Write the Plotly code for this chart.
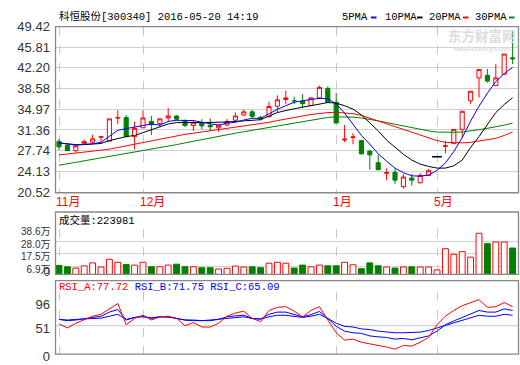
import plotly.graph_objects as go

W, H = 520, 365

# ---------------- data ----------------
idx = list(range(55))
open_ = [29.36, 28.69, 27.75, 28.97, 29.24, 30.10, 29.41, 33.45, 33.52, 30.19,
         31.74, 32.85, 32.46, 33.46, 33.80, 32.96, 32.13, 32.57, 32.19, 31.74,
         32.24, 33.07, 33.96, 34.52, 33.57, 33.68, 35.52, 36.68, 36.50, 36.40,
         35.63, 36.96, 38.62, 36.18, 29.60, 30.05, 29.52, 27.69, 25.64, 23.80,
         23.97, 21.48, 22.97, 22.14, 23.42, 26.69, 28.50, 28.97, 31.46, 36.46,
         40.45, 40.90, 39.12, 41.07, 43.95]
high = [29.80, 28.80, 28.58, 29.69, 30.52, 30.35, 33.30, 34.80, 33.96, 32.85,
        34.79, 33.80, 33.40, 35.18, 33.96, 33.20, 33.07, 33.24, 33.40, 32.30,
        33.24, 34.40, 34.96, 34.85, 33.85, 36.29, 37.40, 38.23, 37.18, 37.62,
        37.07, 39.12, 38.96, 37.85, 32.19, 30.80, 29.60, 27.70, 27.02, 24.64,
        24.64, 23.70, 23.70, 23.81, 24.53, 26.69, 29.41, 31.46, 34.63, 38.12,
        41.90, 42.01, 42.84, 44.62, 48.67]
low = [27.86, 27.70, 27.41, 28.97, 29.08, 29.25, 29.41, 32.41, 30.08, 27.97,
       31.74, 30.47, 31.85, 32.85, 32.96, 31.85, 31.19, 31.46, 31.19, 31.02,
       32.02, 32.85, 33.80, 33.40, 33.02, 33.52, 34.41, 35.90, 35.90, 35.18,
       35.63, 36.74, 36.18, 32.57, 29.24, 28.86, 27.10, 24.42, 24.42, 22.59,
       21.92, 21.09, 21.64, 22.03, 23.31, 26.69, 27.30, 28.97, 29.97, 35.90,
       37.01, 39.62, 39.12, 41.07, 42.84]
close = [28.41, 27.75, 28.58, 29.36, 29.80, 30.20, 33.30, 33.50, 30.24, 31.63,
         33.46, 32.30, 33.30, 33.80, 33.24, 32.13, 32.63, 32.07, 31.91, 32.19,
         32.85, 33.80, 34.52, 33.74, 33.30, 35.46, 36.63, 36.96, 36.45, 35.96,
         36.96, 38.79, 36.18, 32.57, 29.75, 30.15, 27.19, 27.02, 24.42, 23.90,
         22.59, 23.14, 22.59, 23.42, 24.25, 26.69, 28.60, 31.46, 34.63, 38.12,
         41.90, 39.90, 40.45, 44.62, 43.80]
volume_wan = [7.6, 6.5, 5.4, 7.3, 9.8, 6.3, 12.8, 10.3, 8.4, 7.9,
              10.3, 6.5, 6.5, 7.9, 8.7, 6.5, 6.5, 5.7, 5.7, 4.6,
              5.2, 7.1, 6.3, 6.5, 5.7, 9.5, 10.3, 9.5, 5.4, 7.9,
              6.5, 7.9, 7.3, 7.3, 10.3, 8.2, 4.9, 9.8, 7.3, 6.3,
              5.4, 6.3, 6.5, 6.3, 6.3, 3.8, 21.8, 17.1, 19.3, 14.7,
              34.9, 26.1, 27.5, 27.5, 22.4]
ma5 = [29.1, 28.9, 28.7, 28.85, 28.95, 29.2, 30.3, 31.3, 31.6, 31.85,
       32.1, 32.4, 32.2, 32.85, 33.05, 33.05, 33.0, 32.7, 32.4, 32.2,
       32.55, 32.7, 33.1, 33.4, 33.4, 34.2, 34.95, 35.6, 36.2, 36.45,
       36.65, 36.9, 36.8, 35.9, 34.3, 32.4, 30.4, 28.9, 27.2, 25.9,
       24.7, 23.9, 23.35, 23.3, 23.5, 24.3, 25.6, 27.6, 30.0, 32.9,
       35.5, 37.8, 39.8, 41.2, 42.3]
ma10 = [29.1, 28.9, 28.8, 28.8, 28.85, 29.0, 29.5, 29.9, 30.2, 30.4,
        30.9, 31.5, 31.9, 32.4, 32.65, 32.7, 32.65, 32.65, 32.65, 32.7,
        32.75, 32.85, 32.95, 33.05, 33.15, 33.8, 34.4, 34.75, 35.1, 35.35,
        35.6, 35.9, 36.15, 36.05, 35.6, 35.0, 34.0, 32.6, 31.2, 29.6,
        28.4, 27.1, 26.1, 25.4, 25.0, 24.7, 24.7, 25.1, 26.1, 28.3,
        30.2, 32.3, 34.4, 35.8, 37.0]
ma20 = [27.0, 27.15, 27.3, 27.45, 27.6, 27.8, 28.0, 28.3, 28.6, 28.9,
        29.2, 29.5, 29.8, 30.1, 30.4, 30.6, 30.8, 31.0, 31.2, 31.4,
        31.6, 31.8, 32.0, 32.2, 32.45, 32.7, 33.0, 33.3, 33.55, 33.8,
        34.05, 34.25, 34.4, 34.45, 34.35, 34.2, 33.9, 33.4, 32.9, 32.4,
        31.9, 31.4, 30.9, 30.4, 29.9, 29.5, 29.2, 29.1, 29.1, 29.2,
        29.4, 29.6, 29.9, 30.4, 31.0]
ma30 = [25.2, 25.45, 25.7, 25.95, 26.2, 26.45, 26.7, 26.95, 27.2, 27.45,
        27.7, 27.95, 28.2, 28.5, 28.8, 29.1, 29.4, 29.7, 30.0, 30.3,
        30.55, 30.8, 31.05, 31.3, 31.55, 31.8, 32.05, 32.3, 32.6, 32.85,
        33.1, 33.35, 33.55, 33.65, 33.65, 33.6, 33.45, 33.25, 32.95, 32.65,
        32.35, 32.05, 31.75, 31.45, 31.2, 31.0, 30.95, 30.95, 31.0, 31.15,
        31.4, 31.65, 31.9, 32.2, 32.55]
rsi_a = [54.5, 46.8, 55.7, 62.8, 68.7, 72.3, 82.4, 92.4, 52.8, 64.6,
         70.5, 61.6, 67.6, 68.7, 64.6, 51.0, 56.9, 48.6, 48.6, 55.7,
         68.7, 74.7, 78.2, 64.6, 58.7, 79.4, 85.3, 86.5, 78.2, 67.6,
         79.4, 86.5, 61.6, 37.9, 24.3, 26.1, 20.2, 17.2, 15.5, 11.3,
         7.2, 14.3, 13.1, 20.2, 29.1, 52.8, 68.7, 79.4, 88.3, 94.2,
         99.6, 85.3, 86.5, 94.2, 86.5]
rsi_b = [62.8, 60.5, 61.6, 64.6, 66.4, 68.7, 76.4, 81.2, 61.6, 66.4,
         69.3, 64.6, 67.6, 67.6, 64.6, 61.6, 60.5, 60.5, 60.5, 62.8,
         67.6, 69.3, 70.5, 64.6, 63.4, 72.3, 76.4, 76.4, 72.3, 67.6,
         71.7, 77.6, 64.6, 49.8, 40.9, 37.9, 36.8, 32.0, 30.3, 29.1,
         26.1, 27.3, 24.9, 27.9, 32.0, 40.9, 52.8, 59.9, 66.4, 72.3,
         79.4, 76.4, 76.4, 82.4, 79.4]
rsi_c = [62.8, 61.6, 62.8, 63.4, 64.6, 65.2, 68.7, 72.3, 62.8, 66.4,
         67.6, 65.8, 67.6, 67.0, 64.6, 61.6, 61.6, 60.5, 61.6, 62.8,
         65.2, 66.4, 67.6, 64.6, 63.4, 67.6, 70.5, 70.5, 68.7, 66.4,
         68.7, 72.3, 64.6, 55.7, 49.8, 48.6, 45.1, 43.9, 40.9, 39.1,
         37.9, 37.9, 37.9, 39.1, 42.1, 46.8, 52.8, 57.5, 61.6, 65.8,
         70.5, 68.7, 68.7, 72.3, 70.5]

price_ticks = [20.52, 24.13, 27.74, 31.36, 34.97, 38.58, 42.20, 45.81, 49.42]
vol_ticks = [6.9, 17.5, 28.0, 38.6]
vol_tick_text = ["6.9万", "17.5万", "28.0万", "38.6万"]
vol_zero = [0]
rsi_ticks = [0, 51, 96]
month_pos = [0, 10, 33, 45]
month_labels = ["11月", "12月", "1月", "5月"]

title_text = "科恒股份[300340] 2016-05-20 14:19"
vol_title = "成交量:223981"
rsi_labels = [("RSI_A:77.72", "#ff0000"), ("RSI_B:71.75", "#0000ff"), ("RSI_C:65.09", "#0000ff")]
ma_names = ["5PMA", "10PMA", "20PMA", "30PMA"]

# ---------------- style ----------------
RED = "#ff0000"
GREEN = "#008000"
BLUE = "#0000ff"
GRID = "#d0d0d0"
FRAME = "#888888"
MONO = "Liberation Mono, Noto Sans CJK SC, monospace"
SANS = "Liberation Sans, Noto Sans CJK SC, sans-serif"


def px(x):
    return x / W


def py(y):
    return 1 - y / H


X_L, X_R = 55.5, 518.5
xdom = [px(X_L), px(X_R)]
x_range = [-0.4167, -0.4167 + (X_R - X_L) / 8.4]
VOL_DOM = [py(280.5), py(232.7)]
VOL_RANGE = [0, 38.65]

fig = go.Figure()

# price candles (flat doji drawn separately)
flat = [i for i in idx if open_[i] == high[i] == low[i] == close[i]]
c_open = [None if i in flat else open_[i] for i in idx]
c_high = [None if i in flat else high[i] for i in idx]
c_low = [None if i in flat else low[i] for i in idx]
c_close = [None if i in flat else close[i] for i in idx]

fig.add_trace(go.Candlestick(
    x=idx, open=c_open, high=c_high, low=c_low, close=c_close,
    increasing=dict(line=dict(color=RED, width=1), fillcolor="#ffffff"),
    decreasing=dict(line=dict(color=GREEN, width=1), fillcolor=GREEN),
    whiskerwidth=0, xaxis="x", yaxis="y", showlegend=False, hoverinfo="skip"))
fig.add_trace(go.Scatter(
    x=flat, y=[close[i] for i in flat], mode="markers",
    marker=dict(symbol="line-ew", size=7, line=dict(color="#000000", width=1.5)),
    xaxis="x", yaxis="y", showlegend=False, hoverinfo="skip"))

for vals, col in [(ma30, GREEN), (ma20, RED), (ma10, "#000000"), (ma5, BLUE)]:
    fig.add_trace(go.Scatter(x=idx, y=vals, mode="lines", line=dict(color=col, width=1),
                             xaxis="x", yaxis="y", showlegend=False, hoverinfo="skip"))

# volume
up = [close[i] >= open_[i] for i in idx]
fig.add_trace(go.Bar(
    x=idx, y=volume_wan, width=0.7,
    marker=dict(color=["#ffffff" if u else GREEN for u in up],
                line=dict(color=[RED if u else GREEN for u in up], width=1)),
    xaxis="x2", yaxis="y2", showlegend=False, hoverinfo="skip"))
# same volume values on the overlaid axis carrying the "0" label (invisible)
fig.add_trace(go.Scatter(x=idx, y=volume_wan, mode="lines", line=dict(width=0),
                         opacity=0, xaxis="x2", yaxis="y4", showlegend=False, hoverinfo="skip"))

# RSI
for vals, col in [(rsi_c, BLUE), (rsi_b, BLUE), (rsi_a, RED)]:
    fig.add_trace(go.Scatter(x=idx, y=vals, mode="lines", line=dict(color=col, width=1),
                             xaxis="x3", yaxis="y3", showlegend=False, hoverinfo="skip"))

xcommon = dict(domain=xdom, range=x_range, showticklabels=False, tickvals=month_pos,
               showgrid=True, gridcolor="#c8c8c8", griddash="dash", gridwidth=1,
               zeroline=False, showline=False, ticks="", fixedrange=True)


def ycommon(size):
    return dict(showline=False, zeroline=False, ticks="outside", ticklen=2, fixedrange=True,
                tickcolor="rgba(0,0,0,0)", tickfont=dict(family=SANS, size=size, color="#333333"))


fig.update_layout(
    width=W, height=H, margin=dict(l=0, r=0, t=0, b=0),
    paper_bgcolor="#ffffff", plot_bgcolor="#ffffff", showlegend=False,
    xaxis=dict(anchor="y", rangeslider=dict(visible=False), **xcommon),
    xaxis2=dict(anchor="y2", matches="x", **xcommon),
    xaxis3=dict(anchor="y3", matches="x", **xcommon),
    yaxis=dict(domain=[py(194.8), py(20.5)], range=[20.40, 49.42], tickvals=price_ticks,
               ticktext=[f"{v:.2f}" for v in price_ticks], showgrid=True, gridcolor=GRID,
               anchor="x", **ycommon(13)),
    yaxis2=dict(domain=VOL_DOM, range=VOL_RANGE, tickvals=vol_ticks,
                ticktext=vol_tick_text, showgrid=True, gridcolor=GRID, anchor="x2",
                ticklabelshift=3, **ycommon(10)),
    yaxis4=dict(domain=VOL_DOM, range=VOL_RANGE, tickvals=vol_zero, ticktext=["0"],
                overlaying="y2", side="left", showgrid=False, anchor="x2",
                ticklabelshift=-3, ticklabeloverflow="allow", **ycommon(12)),
    yaxis3=dict(domain=[py(364), py(299)], range=[-1.75, 113.7], tickvals=rsi_ticks,
                ticktext=[str(v) for v in rsi_ticks], showgrid=False, anchor="x3",
                ticklabelshift=3, ticklabeloverflow="allow", **ycommon(13)),
)

shapes = []
# panel frames
for top, bot in [(20.5, 194.8), (215, 280.5), (287, 364)]:
    shapes.append(dict(type="rect", xref="paper", yref="paper", x0=xdom[0], x1=xdom[1],
                       y0=py(bot), y1=py(top), line=dict(color=FRAME, width=1.3), layer="above"))
# RSI 51 line
shapes.append(dict(type="line", xref="paper", yref="y3", x0=xdom[0], x1=xdom[1], y0=51, y1=51,
                   line=dict(color="#c8c8c8", width=1), layer="below"))

annotations = []
annotations.append(dict(x=px(57), y=py(10), xref="paper", yref="paper", xanchor="left",
                        yanchor="middle", text=title_text, showarrow=False,
                        font=dict(family=MONO, size=10.5, color="#000000")))
# MA legend
leg_x = [340, 383, 427, 473]
sw_x = [371, 417, 463, 509]
sw_col = [BLUE, "#000000", RED, GREEN]
for name, lx, sx, col in zip(ma_names, leg_x, sw_x, sw_col):
    annotations.append(dict(x=px(lx), y=py(10), xref="paper", yref="paper", xanchor="left",
                            yanchor="middle", text=name, showarrow=False,
                            font=dict(family=MONO, size=10.5, color="#000000")))
    shapes.append(dict(type="rect", xref="paper", yref="paper", x0=px(sx), x1=px(sx + 5.5),
                       y0=py(12), y1=py(10), line=dict(width=0), fillcolor=col))
# watermark
annotations.append(dict(x=px(482), y=py(29), xref="paper", yref="paper", xanchor="center",
                        yanchor="middle", text="<b>东方财富网</b>", showarrow=False,
                        font=dict(family="Noto Sans CJK SC", size=13.5, color="#dcdcdc")))
annotations.append(dict(x=px(482), y=py(44), xref="paper", yref="paper", xanchor="center",
                        yanchor="middle", text="<b>eastmoney.com</b>", showarrow=False,
                        font=dict(family=SANS, size=7.5, color="#dcdcdc")))
# month labels
for pos, lab in zip(month_pos, month_labels):
    annotations.append(dict(x=pos, y=py(205), xref="x", yref="paper", xanchor="left",
                            yanchor="middle", xshift=-5, text=lab, showarrow=False,
                            font=dict(family=SANS, size=12, color=RED)))
# volume title
annotations.append(dict(x=px(57), y=py(223.5), xref="paper", yref="paper", xanchor="left",
                        yanchor="middle", text=vol_title, showarrow=False,
                        font=dict(family=MONO, size=10.5, color="#000000")))
# RSI title
rsi_text = " ".join(f"<span style='color:{c}'>{t}</span>" for t, c in rsi_labels)
annotations.append(dict(x=px(57), y=py(293.5), xref="paper", yref="paper", xanchor="left",
                        yanchor="middle", text=rsi_text, showarrow=False,
                        font=dict(family=MONO, size=10.5, color="#000000")))

fig.update_layout(shapes=shapes, annotations=annotations)
fig.write_html("out.html", config={"displayModeBar": False, "staticPlot": True},
               post_script="document.body.style.margin='0px';")
